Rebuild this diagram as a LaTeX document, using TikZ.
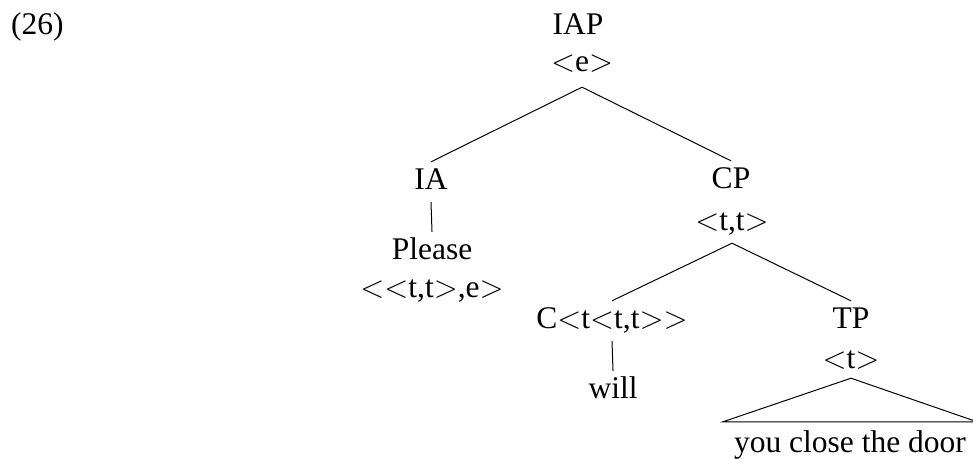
\RequirePackage{fix-cm}
\documentclass[tikz,border=0pt]{standalone}
\usepackage{fontspec}
\setmainfont{Liberation Serif}
\begin{document}
\begin{tikzpicture}[x=1pt,y=-1pt,
  every node/.style={font=\fontsize{31.5}{38}\selectfont},
  lab/.style={inner sep=0pt, text height=27pt, text depth=13pt, anchor=base},
  edge/.style={line width=1pt}]
\useasboundingbox (0,0) rectangle (973,458);
\node[lab, anchor=base west] (num) at (11,34) {(26)};
\node[lab] (iap) at (578,34) {IAP};
\node[lab, text depth=16pt] (e) at (582,71) {$<$e$>$};
\node[lab] (ia) at (431,189) {IA};
\node[lab] (please) at (432,259) {Please};
\node[lab] (pt) at (432,297) {$<<$t,t$>$,e$>$};
\node[lab] (cp) at (731,188) {CP};
\node[lab] (tt) at (732,230) {$<$t,t$>$};
\node[lab] (c) at (612,328) {C$<$t$<$t,t$>>$};
\node[lab] (will) at (613,398) {will};
\node[lab] (tp) at (851,328) {TP};
\node[lab, text depth=10pt] (t) at (851,368) {$<$t$>$};
\node[lab, text height=30pt, inner xsep=11pt] (door) at (850,452) {you close the door};
\draw[edge] (e.south) -- (ia.north);
\draw[edge] (e.south) -- (cp.north);
\draw[edge] (ia.south) -- (please.north);
\draw[edge] (tt.south) -- (c.north);
\draw[edge] (tt.south) -- (tp.north);
\draw[edge] (c.south) -- (will.north);
\draw[edge] (t.south) -- (door.north west) -- (door.north east) -- cycle;
\end{tikzpicture}
\end{document}
